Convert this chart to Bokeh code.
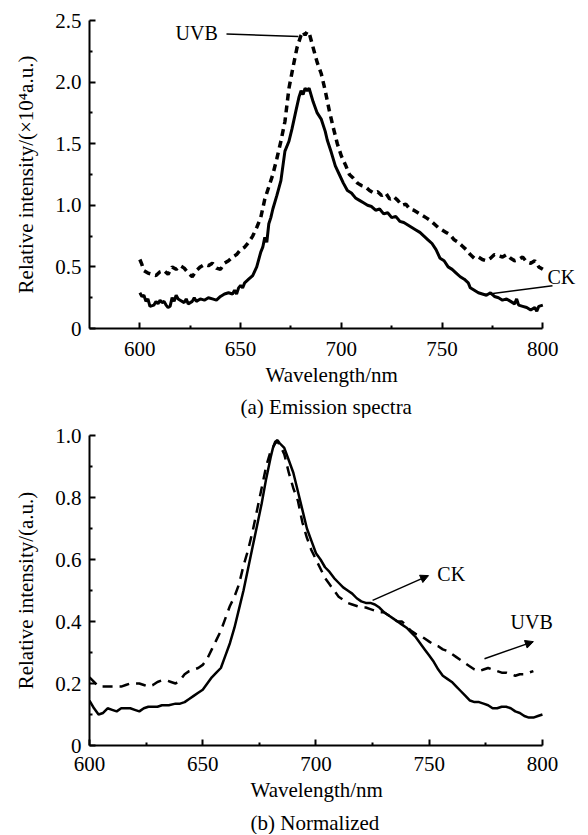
from bokeh.plotting import figure
from bokeh.layouts import column
from bokeh.models import FixedTicker, Arrow, NormalHead, Label, Title, Range1d
from bokeh.embed import file_html
from bokeh.resources import INLINE

FONT = "Liberation Serif"
FS = "21px"
FS_NOTE = "20px"

# ---------------- (a) Emission spectra ----------------
a_ck_x = [600, 601, 602, 603, 604, 605, 607, 608, 609, 610, 611, 612, 613, 614, 615, 616, 617, 618, 619, 620,
          622, 623, 624, 626, 627, 628, 630, 632, 634, 636, 638, 640, 642, 644, 646, 647, 648, 649, 650, 651,
          652, 654, 656, 658, 660, 661, 662, 663, 664, 665, 666, 668, 670, 672, 674, 675.5, 677.5, 679, 680, 681,
          682, 683, 684, 686, 688, 690, 692, 693, 695, 697, 699, 701, 703, 705, 707, 709, 711, 713, 715, 717,
          719, 721, 723, 725, 727, 729, 731, 733, 735, 737, 739, 741, 743, 745, 747, 749, 751, 753, 755, 757,
          759, 761, 763, 764, 766, 768, 770, 772, 774, 776, 778, 780, 782, 784, 786, 787, 788, 790, 792, 794,
          796, 797, 798, 800]
a_ck_y = [0.29, 0.26, 0.27, 0.22, 0.24, 0.18, 0.19, 0.22, 0.20, 0.23, 0.21, 0.22, 0.19, 0.17, 0.18, 0.25, 0.22, 0.27, 0.24, 0.23,
          0.21, 0.24, 0.20, 0.22, 0.25, 0.22, 0.24, 0.23, 0.25, 0.24, 0.23, 0.26, 0.28, 0.29, 0.28, 0.31, 0.28, 0.33, 0.35, 0.33,
          0.37, 0.40, 0.43, 0.50, 0.62, 0.66, 0.74, 0.70, 0.85, 0.90, 0.97, 1.08, 1.20, 1.44, 1.52, 1.62, 1.77, 1.88, 1.93, 1.90,
          1.95, 1.93, 1.95, 1.84, 1.75, 1.70, 1.60, 1.53, 1.43, 1.32, 1.25, 1.18, 1.12, 1.10, 1.06, 1.04, 1.02, 1.00, 0.99, 0.96,
          0.97, 0.93, 0.94, 0.90, 0.91, 0.87, 0.86, 0.84, 0.82, 0.80, 0.78, 0.75, 0.72, 0.69, 0.64, 0.57, 0.55, 0.50, 0.48, 0.45,
          0.42, 0.40, 0.37, 0.33, 0.31, 0.29, 0.28, 0.27, 0.29, 0.26, 0.25, 0.23, 0.24, 0.22, 0.20, 0.24, 0.19, 0.18, 0.17, 0.15,
          0.17, 0.14, 0.18, 0.19]

a_uvb_x = [600, 601, 602, 604, 606, 608, 610, 612, 614, 616, 618, 620, 622, 624, 626, 628, 630, 632, 634, 636,
           638, 640, 642, 644, 646, 648, 650, 652, 654, 656, 658, 660, 662, 664, 666, 668, 670, 672, 674, 676,
           678, 680, 681, 682, 683, 684, 686, 688, 690, 692, 694, 696, 698, 700, 702, 704, 706, 708, 710, 712,
           714, 716, 718, 720, 722, 724, 726, 728, 730, 732, 734, 736, 738, 740, 742, 744, 746, 748, 750, 752,
           754, 756, 758, 760, 762, 764, 766, 768, 770, 772, 774, 776, 778, 780, 782, 784, 786, 788, 790, 792,
           794, 796, 798, 800]
a_uvb_y = [0.56, 0.52, 0.47, 0.45, 0.44, 0.43, 0.46, 0.47, 0.44, 0.50, 0.48, 0.51, 0.49, 0.45, 0.42, 0.47, 0.50, 0.52, 0.51, 0.53,
           0.49, 0.48, 0.53, 0.55, 0.58, 0.60, 0.64, 0.66, 0.70, 0.75, 0.82, 0.90, 1.05, 1.15, 1.25, 1.38, 1.52, 1.68, 1.95, 2.12,
           2.28, 2.38, 2.41, 2.38, 2.41, 2.40, 2.28, 2.16, 2.07, 1.93, 1.77, 1.63, 1.50, 1.40, 1.33, 1.25, 1.22, 1.18, 1.16, 1.15,
           1.12, 1.10, 1.11, 1.08, 1.10, 1.05, 1.07, 1.04, 1.00, 1.01, 0.97, 0.96, 0.94, 0.92, 0.90, 0.88, 0.85, 0.82, 0.80, 0.78,
           0.76, 0.72, 0.70, 0.67, 0.64, 0.60, 0.57, 0.58, 0.56, 0.55, 0.57, 0.60, 0.59, 0.58, 0.60, 0.57, 0.55, 0.56, 0.58, 0.54,
           0.53, 0.55, 0.50, 0.48]

a_xticks = [600, 650, 700, 750, 800]
a_xminor = [625, 675, 725, 775]
a_yticks = [0, 0.5, 1.0, 1.5, 2.0, 2.5]
a_ylabels = ["0", "0.5", "1.0", "1.5", "2.0", "2.5"]
a_yminor = [0.25, 0.75, 1.25, 1.75, 2.25]

# ---------------- (b) Normalized ----------------
b_ck_x = [600, 602, 604, 606, 608, 610, 612, 614, 616, 618, 620, 622, 624, 626, 628, 630, 632, 635, 638, 640,
          642, 644, 646, 648, 650, 652, 654, 656, 658, 660, 662, 664, 666, 668, 670, 672, 674, 676, 678, 680,
          681, 682, 683, 684, 686, 688, 690, 692, 694, 696, 698, 700, 702, 704, 706, 708, 710, 712, 714, 716,
          718, 720, 722, 724, 726, 728, 730, 732, 734, 736, 738, 740, 742, 744, 746, 748, 750, 752, 754, 756,
          758, 760, 762, 764, 766, 768, 770, 772, 774, 776, 778, 780, 782, 784, 786, 788, 790, 792, 794, 796,
          798, 800]
b_ck_y = [0.145, 0.12, 0.10, 0.105, 0.12, 0.115, 0.11, 0.12, 0.12, 0.12, 0.115, 0.11, 0.12, 0.125, 0.125, 0.125, 0.13, 0.13, 0.135, 0.135,
          0.14, 0.15, 0.16, 0.17, 0.18, 0.20, 0.22, 0.235, 0.25, 0.29, 0.33, 0.38, 0.44, 0.50, 0.57, 0.64, 0.71, 0.78, 0.86, 0.93,
          0.96, 0.98, 0.985, 0.975, 0.96, 0.92, 0.88, 0.82, 0.76, 0.70, 0.66, 0.62, 0.60, 0.575, 0.56, 0.54, 0.525, 0.51, 0.50, 0.49,
          0.475, 0.465, 0.46, 0.46, 0.455, 0.445, 0.43, 0.42, 0.41, 0.40, 0.39, 0.38, 0.365, 0.35, 0.33, 0.31, 0.29, 0.27, 0.245, 0.225,
          0.215, 0.205, 0.19, 0.175, 0.16, 0.145, 0.14, 0.14, 0.135, 0.13, 0.12, 0.12, 0.125, 0.125, 0.12, 0.11, 0.105, 0.095, 0.09, 0.09,
          0.095, 0.10]

b_uvb_x = [600, 602, 604, 606, 608, 610, 612, 614, 616, 618, 620, 622, 624, 626, 628, 630, 632, 634, 636, 638,
           640, 642, 644, 646, 648, 650, 652, 654, 656, 658, 660, 662, 664, 666, 668, 670, 672, 674, 676, 678,
           680, 682, 683, 684, 686, 688, 690, 692, 694, 696, 698, 700, 702, 704, 706, 708, 710, 712, 714, 716,
           718, 720, 722, 724, 726, 728, 730, 732, 734, 736, 738, 740, 742, 744, 746, 748, 750, 752, 754, 756,
           758, 760, 762, 764, 766, 768, 770, 772, 774, 776, 778, 780, 782, 784, 786, 788, 790, 792, 794, 796]
b_uvb_y = [0.22, 0.205, 0.19, 0.19, 0.19, 0.19, 0.19, 0.19, 0.195, 0.20, 0.20, 0.20, 0.195, 0.19, 0.195, 0.205, 0.21, 0.21, 0.205, 0.20,
           0.21, 0.23, 0.24, 0.245, 0.25, 0.26, 0.28, 0.31, 0.34, 0.37, 0.41, 0.45, 0.48, 0.52, 0.58, 0.63, 0.69, 0.76, 0.83, 0.90,
           0.95, 0.975, 0.98, 0.97, 0.94, 0.88, 0.83, 0.79, 0.72, 0.67, 0.63, 0.60, 0.57, 0.54, 0.52, 0.50, 0.48, 0.47, 0.46, 0.455,
           0.45, 0.445, 0.445, 0.44, 0.435, 0.43, 0.43, 0.42, 0.41, 0.40, 0.40, 0.385, 0.37, 0.36, 0.355, 0.345, 0.335, 0.325, 0.32, 0.31,
           0.305, 0.295, 0.285, 0.275, 0.265, 0.255, 0.245, 0.24, 0.245, 0.25, 0.245, 0.24, 0.235, 0.235, 0.23, 0.225, 0.23, 0.23, 0.235, 0.24]

b_xticks = [600, 650, 700, 750, 800]
b_xminor = [625, 675, 725, 775]
b_yticks = [0, 0.2, 0.4, 0.6, 0.8, 1.0]
b_ylabels = ["0", "0.2", "0.4", "0.6", "0.8", "1.0"]
b_yminor = [0.1, 0.3, 0.5, 0.7, 0.9]


def style(p, xticks, xminor, yticks, ylabels, yminor, ylabel, xbounds):
    p.xaxis.ticker = FixedTicker(ticks=xticks, minor_ticks=xminor)
    p.yaxis.ticker = FixedTicker(ticks=yticks, minor_ticks=yminor)
    p.yaxis.major_label_overrides = {t: l for t, l in zip(yticks, ylabels)}
    p.xaxis.major_label_overrides = {t: str(t) for t in xticks}
    p.xaxis.bounds = xbounds
    for ax in (p.xaxis, p.yaxis):
        ax.axis_line_width = 2
        ax.axis_line_color = "black"
        ax.major_tick_line_width = 2
        ax.minor_tick_line_width = 2
        ax.major_tick_in = 6
        ax.major_tick_out = 0
        ax.minor_tick_in = 3
        ax.minor_tick_out = 0
        ax.major_label_text_font = FONT
        ax.major_label_text_font_size = FS
        ax.major_label_text_color = "black"
        ax.axis_label_text_font = FONT
        ax.axis_label_text_font_size = FS
        ax.axis_label_text_font_style = "normal"
        ax.axis_label_text_color = "black"
    p.yaxis.major_label_standoff = 8
    p.yaxis.axis_label = ylabel
    p.yaxis.axis_label_standoff = 14
    p.xgrid.visible = False
    p.ygrid.visible = False
    p.outline_line_color = None
    p.background_fill_color = "white"
    p.border_fill_color = "white"


def add_titles(p, xlabel, caption, xoff, xstand, coff):
    t1 = Title(text=xlabel, align="left", offset=xoff, vertical_align="top", text_font=FONT,
               text_font_size=FS, text_font_style="normal", text_color="black", standoff=xstand)
    t2 = Title(text=caption, align="left", offset=coff, vertical_align="bottom", text_font=FONT,
               text_font_size=FS, text_font_style="normal", text_color="black", standoff=0)
    p.add_layout(t1, "below")
    p.add_layout(t2, "below")


def note(p, x, y, text):
    p.add_layout(Label(x=x, y=y, text=text, text_baseline="middle", text_align="left",
                       text_font=FONT, text_font_size=FS_NOTE, text_color="black"))


p1 = figure(width=586, height=418, x_range=Range1d(575, 818.7), y_range=Range1d(0, 2.5),
            output_backend="svg", toolbar_location=None, title=None,
            min_border_left=89, min_border_right=6, min_border_top=20, min_border_bottom=89)
style(p1, a_xticks, a_xminor, a_yticks, a_ylabels, a_yminor,
      "Relative intensity/(\u00d710\u2074a.u.)", (575, 800))
p1.xaxis.major_label_standoff = 13
p1.line(a_ck_x, a_ck_y, line_color="black", line_width=3)
p1.line(a_uvb_x, a_uvb_y, line_color="black", line_width=3.5, line_dash="7 5")
p1.add_layout(Arrow(x_start=643.0, y_start=2.39, x_end=678.7, y_end=2.37, end=None,
                    line_color="black", line_width=1.5))
p1.add_layout(Arrow(x_start=804.8, y_start=0.347, x_end=770.5, y_end=0.274, end=None,
                    line_color="black", line_width=1.5))
note(p1, 617.7, 2.395, "UVB")
note(p1, 802.3, 0.419, "CK")
add_titles(p1, "Wavelength/nm", "(a) Emission spectra", 176, 8, 151)

p2 = figure(width=586, height=416, x_range=Range1d(600, 816.8), y_range=Range1d(0, 1.0),
            output_backend="svg", toolbar_location=None, title=None,
            min_border_left=89, min_border_right=6, min_border_top=17, min_border_bottom=89)
style(p2, b_xticks, b_xminor, b_yticks, b_ylabels, b_yminor,
      "Relative intensity/(a.u.)", (600, 800))
p2.xaxis.major_label_standoff = 11
p2.line(b_ck_x, b_ck_y, line_color="black", line_width=2.5)
p2.line(b_uvb_x, b_uvb_y, line_color="black", line_width=2.5, line_dash="10 7")
p2.add_layout(Arrow(x_start=725, y_start=0.468, x_end=749.7, y_end=0.548,
                    end=NormalHead(size=8, fill_color="black", line_color="black"),
                    line_color="black", line_width=1.5))
p2.add_layout(Arrow(x_start=774.4, y_start=0.28, x_end=796, y_end=0.335,
                    end=NormalHead(size=8, fill_color="black", line_color="black"),
                    line_color="black", line_width=1.5))
note(p2, 753.6, 0.552, "CK")
note(p2, 785.9, 0.397, "UVB")
add_titles(p2, "Wavelength/nm", "(b) Normalized", 161, 9, 161)

layout = column(p1, p2, spacing=0)
open("out.html", "w").write(file_html(layout, INLINE))
